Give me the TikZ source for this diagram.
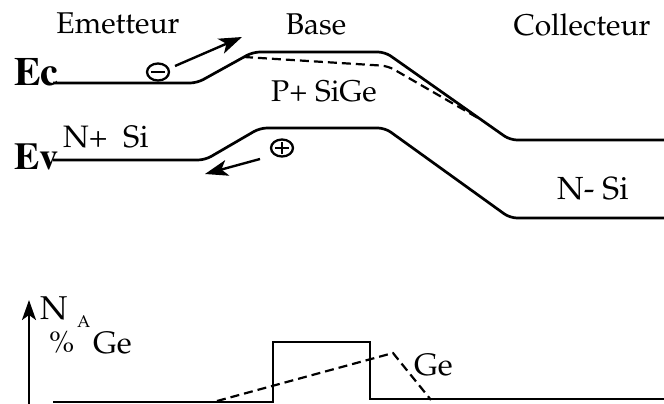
\documentclass[tikz,border=0pt]{standalone}
\usepackage[T1]{fontenc}
\renewcommand{\rmdefault}{ppl}
\usetikzlibrary{arrows.meta,shapes.geometric}
\tikzset{
  band/.style={line width=2.7pt, rounded corners=7pt, line join=round},
  bandDashed/.style={line width=2.2pt, dash pattern=on 9pt off 5pt, rounded corners=7pt},
  carrier/.style={draw, ellipse, line width=2.3pt, minimum width=22pt, minimum height=17pt, inner sep=0pt},
  motion/.style={line width=2.4pt, -{Stealth[length=23pt,width=16pt,inset=6pt]}},
  lbl/.style={inner sep=0pt, font=\fontsize{30}{34}\selectfont},
  bigE/.style={inner sep=0pt, font=\fontfamily{ptm}\fontseries{b}\fontsize{40}{44}\selectfont},
  profile/.style={line width=2.7pt, line join=miter},
}
\begin{document}
\begin{tikzpicture}[x=1pt,y=-1pt]
\useasboundingbox (0,0) rectangle (664,404);
% region titles
\node[lbl, anchor=base] (emet) at (118,34) {Emetteur};
\node[lbl, anchor=base] (base) at (316,35) {Base};
\node[lbl, anchor=base] (coll) at (582,36) {Collecteur};
% Ec / Ev
\node[bigE, anchor=base west] (ec) at (14,85) {Ec};
\node[bigE, anchor=base west, font=\fontfamily{ptm}\fontseries{b}\fontsize{38}{40}\selectfont] (ev) at (14,169) {Ev};
% bands
\coordinate (ec0) at (53,83);
\coordinate (ec1) at (664,140);
\draw[band] (ec0) -- (197,83) -- (253,52) -- (385,52) -- (510,140) -- (ec1);
\coordinate (ev0) at (53,160);
\coordinate (ev1) at (664,218);
\draw[band] (ev0) -- (205,160) -- (260,128) -- (385,128) -- (510,218) -- (ev1);
\coordinate (d0) at (244,57);
\coordinate (d1) at (478,118);
\draw[bandDashed] (d0) -- (388,66) -- (d1);
% material labels
\node[lbl, anchor=base west, font=\fontsize{31}{34}\selectfont] (nsi) at (63,147) {N+\ \ Si};
\node[lbl, anchor=base west] (psige) at (271,102) {P+ SiGe};
\node[lbl, anchor=base west, font=\fontsize{32}{34}\selectfont] (nmsi) at (557,199) {N- Si};
% carriers
\node[carrier] (el) at (158,72) {};
\draw[line width=2.3pt] ([xshift=5pt]el.west) -- ([xshift=-5pt]el.east);
\coordinate (ea0) at (175,66);
\coordinate (ea1) at (242,37);
\draw[motion] (ea0) -- (ea1);
\node[carrier] (ho) at (282,148) {};
\draw[line width=2.3pt] ([xshift=5pt]ho.west) -- ([xshift=-5pt]ho.east);
\draw[line width=2.3pt] ([yshift=-4pt]ho.north) -- ([yshift=4pt]ho.south);
\coordinate (ha0) at (260,159);
\coordinate (ha1) at (205,174);
\draw[motion] (ha0) -- (ha1);
% profile
\coordinate (ax0) at (29,404);
\coordinate (ax1) at (29,300);
\draw[line width=2.5pt, -{Stealth[length=20pt,width=14pt,inset=5pt]}] (ax0) -- (ax1);
\node[lbl, anchor=base west, font=\fontsize{33}{36}\selectfont] (na) at (40,319) {N};
\node[lbl, anchor=base west, font=\fontsize{17}{20}\selectfont] (nasub) at (77,327) {A};
\node[lbl, anchor=base west, font=\fontsize{30}{32}\selectfont] (pc) at (49,352) {\%};
\node[lbl, anchor=base west, font=\fontsize{31}{34}\selectfont] (ge1) at (93,353) {Ge};
\coordinate (p0) at (53,402);
\coordinate (p1) at (664,399);
\draw[profile] (p0) -- (273,402) -- (273,342) -- (370,342) -- (370,399) -- (p1);
\coordinate (g0) at (217,401);
\coordinate (g1) at (431,400);
\draw[line width=2.2pt, dash pattern=on 9pt off 5pt] (g0) -- (393,353) -- (g1);
\node[lbl, anchor=base west, font=\fontsize{31}{34}\selectfont] (ge2) at (414,375) {Ge};
\end{tikzpicture}
\end{document}
